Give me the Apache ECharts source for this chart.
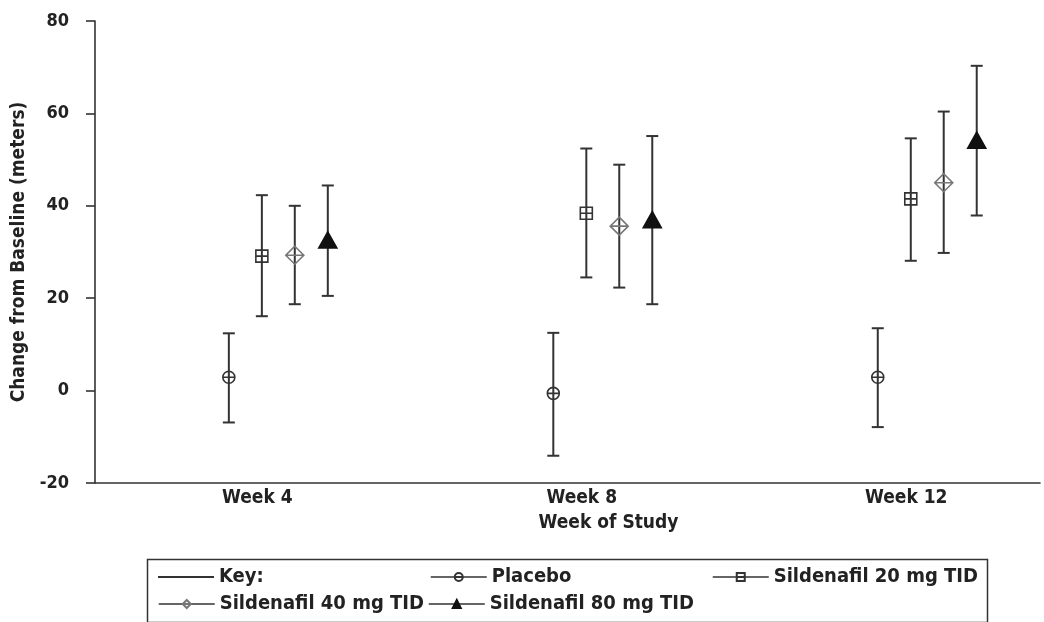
<!DOCTYPE html>
<html>
<head>
<meta charset="utf-8">
<script src="https://cdn.jsdelivr.net/npm/echarts@6/dist/echarts.min.js"></script>
<style>
  html, body { margin: 0; padding: 0; background: #fff; }
  #chart { width: 1044px; height: 622px; }
</style>
</head>
<body>
<div id="chart"></div>
<script>
// ---- data ----
const weeks = [4, 8, 12];
const weekLabels = ['Week 4', 'Week 8', 'Week 12'];
const yTicks = [-20, 0, 20, 40, 60, 80];

const seriesNames = ['Placebo', 'Sildenafil 20 mg TID', 'Sildenafil 40 mg TID', 'Sildenafil 80 mg TID'];

const placeboMean = [2.9, -0.6, 2.9];
const placeboLow  = [-6.9, -14.1, -7.9];
const placeboHigh = [12.4, 12.5, 13.5];

const sil20Mean = [29.1, 38.4, 41.5];
const sil20Low  = [16.1, 24.5, 28.1];
const sil20High = [42.3, 52.4, 54.6];

const sil40Mean = [29.3, 35.6, 45.0];
const sil40Low  = [18.7, 22.3, 29.8];
const sil40High = [40.0, 48.9, 60.4];

const sil80Mean = [32.6, 37.0, 54.2];
const sil80Low  = [20.5, 18.7, 37.9];
const sil80High = [44.4, 55.1, 70.3];

// ---- layout / styles ----
const FONT = "'DejaVu Sans Condensed', 'DejaVu Sans', sans-serif";
const INK = '#222';
const groupOffsets = [-0.61, -0.203, 0.203, 0.61]; // within-week dodge, in week units

const means = [placeboMean, sil20Mean, sil40Mean, sil80Mean];
const lows = [placeboLow, sil20Low, sil40Low, sil80Low];
const highs = [placeboHigh, sil20High, sil40High, sil80High];

const symbols = [
  'path://M0,5A5,5,0,1,1,10,5A5,5,0,1,1,0,5ZM0,5L10,5',
  'path://M0,0L10,0L10,10L0,10ZM0,5L10,5',
  'path://M5,0L10,5L5,10L0,5ZM0,5L10,5',
  'triangle'
];
const symbolSizes = [[12, 12], [12, 12], [18, 18], [18, 16]];
const markerColors = ['#333', '#333', '#777', '#111'];
const markerFills = ['rgba(0,0,0,0)', 'rgba(0,0,0,0)', 'rgba(0,0,0,0)', '#111'];

const series = [];

// legend-only "Key:" entry
series.push({
  name: 'Key:', type: 'line', data: [], symbol: 'none',
  itemStyle: { color: '#333' },
  lineStyle: { color: '#333', width: 1.5 }
});

seriesNames.forEach(function (name, i) {
  const errData = weeks.map(function (w, k) { return [w + groupOffsets[i], lows[i][k], highs[i][k]]; });
  series.push({
    type: 'custom',
    name: name + ' range',
    data: errData,
    z: 1,
    encode: { x: 0, y: [1, 2] },
    renderItem: function (params, api) {
      const x = api.value(0);
      const lo = api.coord([x, api.value(1)]);
      const hi = api.coord([x, api.value(2)]);
      const cap = 6;
      const st = { stroke: '#333', lineWidth: 2, fill: null };
      return {
        type: 'group',
        children: [
          { type: 'line', shape: { x1: lo[0], y1: lo[1], x2: hi[0], y2: hi[1] }, style: st },
          { type: 'line', shape: { x1: lo[0] - cap, y1: lo[1], x2: lo[0] + cap, y2: lo[1] }, style: st },
          { type: 'line', shape: { x1: hi[0] - cap, y1: hi[1], x2: hi[0] + cap, y2: hi[1] }, style: st }
        ]
      };
    },
    silent: true
  });
  series.push({
    name: name,
    type: 'line',
    z: 3,
    data: weeks.map(function (w, k) { return [w + groupOffsets[i], means[i][k]]; }),
    symbol: symbols[i],
    symbolSize: symbolSizes[i],
    showAllSymbol: true,
    lineStyle: { opacity: 0, width: 0 },
    itemStyle: { color: markerFills[i], borderColor: markerColors[i], borderWidth: 1.6 },
    emphasis: { disabled: true }
  });
});

function legendAt(name, left, top, extra) {
  const l = {
    data: [name], left: left, top: top, padding: 0,
    itemWidth: 56, itemHeight: 10, itemGap: 0,
    selectedMode: false,
    textStyle: { fontFamily: FONT, fontWeight: 'bold', fontSize: 20, color: INK },
    lineStyle: { color: '#333', width: 1.5, opacity: 1 }
  };
  return Object.assign(l, extra || {});
}

const chart = echarts.init(document.getElementById('chart'), null, { renderer: 'canvas' });
chart.setOption({
  animation: false,
  backgroundColor: '#fff',
  grid: { left: 95, top: 21, right: 4, bottom: 139, containLabel: false },
  xAxis: {
    type: 'value', min: 1.74, max: 13.39,
    name: 'Week of Study', nameLocation: 'middle', nameGap: 31,
    nameTextStyle: { fontFamily: FONT, fontWeight: 'bold', fontSize: 19, color: INK, padding: [0, 0, 0, 82] },
    axisLine: { show: true, onZero: false, lineStyle: { color: '#333', width: 1.6 } },
    axisTick: { show: false },
    splitLine: { show: false },
    axisLabel: {
      customValues: weeks,
      formatter: function (v) { const k = weeks.indexOf(v); return k >= 0 ? weekLabels[k] : ''; },
      fontFamily: FONT, fontWeight: 'bold', fontSize: 19, color: INK,
      margin: 6, padding: [0, 42, 0, 0]
    }
  },
  yAxis: {
    type: 'value', min: yTicks[0], max: yTicks[yTicks.length - 1], interval: 20,
    name: 'Change from Baseline (meters)', nameLocation: 'middle', nameGap: 60,
    nameTextStyle: { fontFamily: FONT, fontWeight: 'bold', fontSize: 19, color: INK },
    axisLine: { show: true, lineStyle: { color: '#333', width: 1.6 } },
    axisTick: { show: true, inside: false, length: 9, lineStyle: { color: '#333', width: 1.6 } },
    splitLine: { show: false },
    axisLabel: { fontFamily: FONT, fontWeight: 'bold', fontSize: 18, color: INK, margin: 26 }
  },
  legend: [
    legendAt('Key:', 158, 567, { icon: 'rect', itemHeight: 2, itemStyle: { color: '#333' }, data: [{ name: 'Key:', icon: 'rect' }] }),
    legendAt(seriesNames[0], 430, 567),
    legendAt(seriesNames[1], 712, 567),
    legendAt(seriesNames[2], 158, 594),
    legendAt(seriesNames[3], 428, 594)
  ],
  graphic: [{
    type: 'rect', left: 145, top: 557,
    shape: { width: 840, height: 63 },
    style: { fill: null, stroke: '#333', lineWidth: 1.5 },
    silent: true
  }],
  series: series
});
</script>
</body>
</html>
